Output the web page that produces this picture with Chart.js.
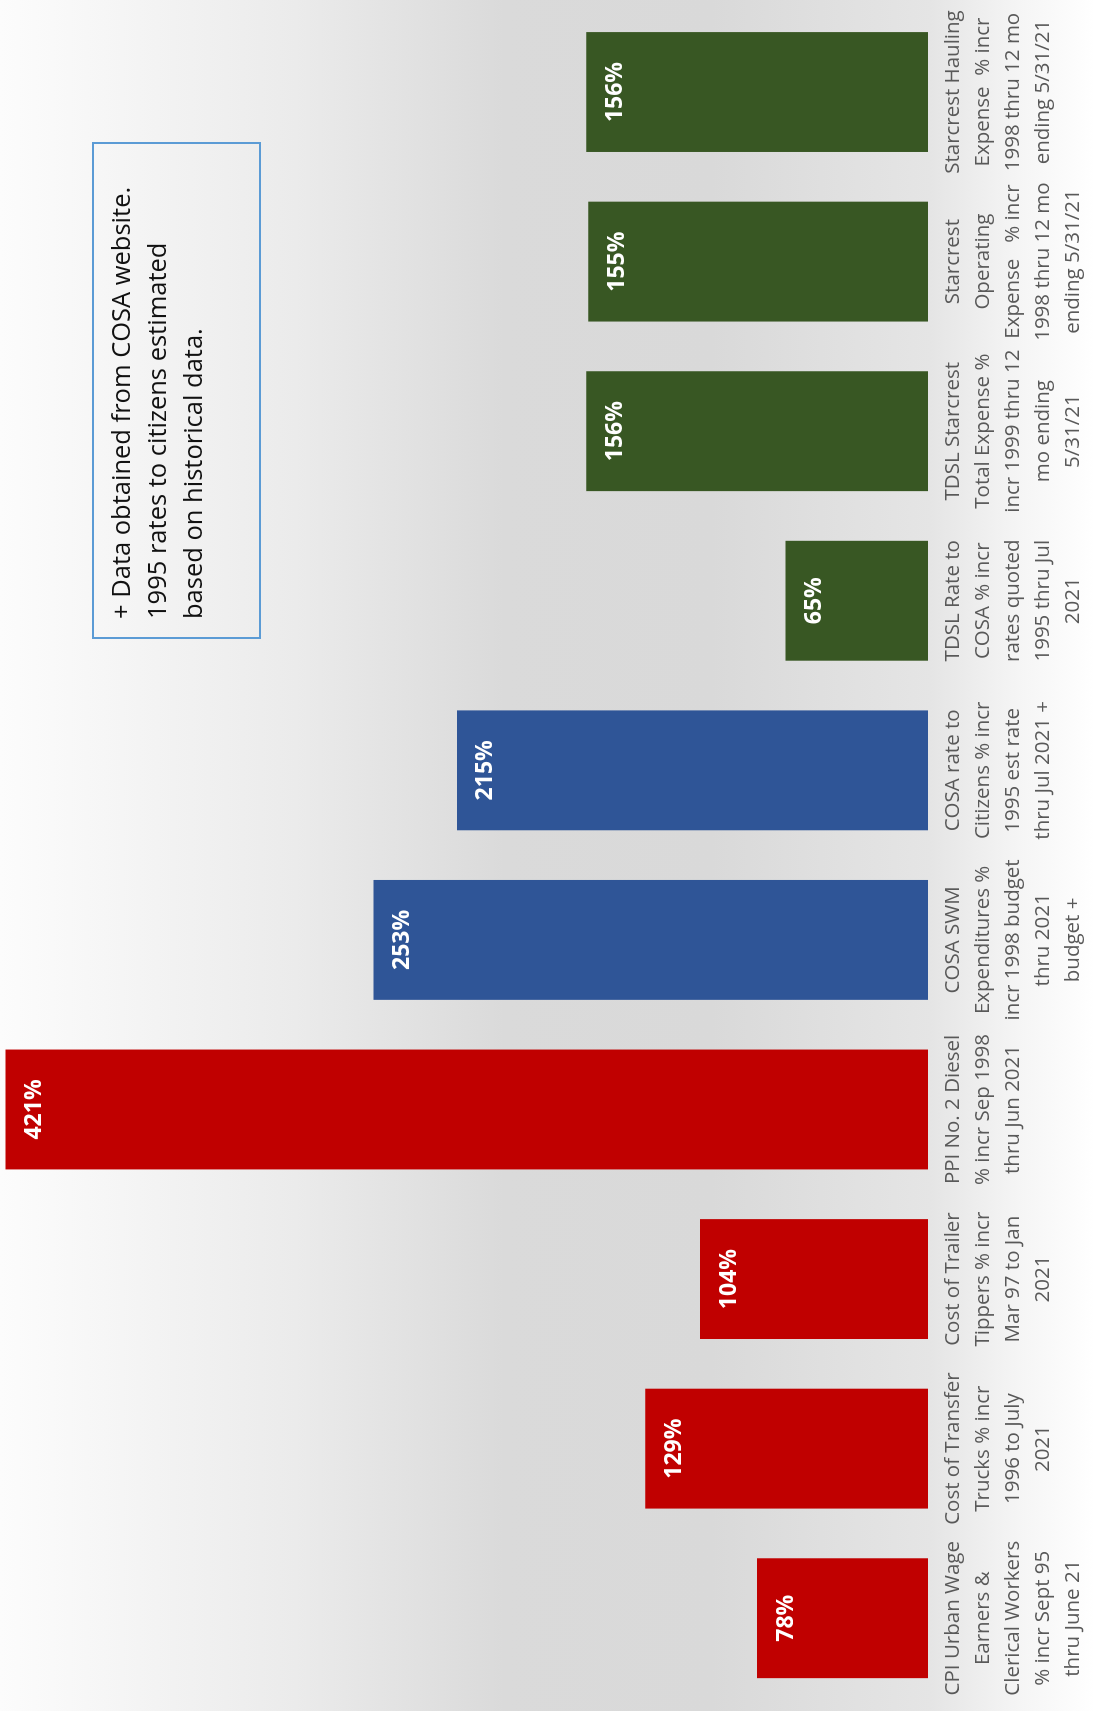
<!DOCTYPE html>
<html>
<head>
<meta charset="utf-8">
<script src="https://cdn.jsdelivr.net/npm/chart.js@4.4.1/dist/chart.umd.min.js"></script>
<style>
  html, body { margin: 0; padding: 0; width: 1095px; height: 1711px; overflow: hidden; }
  body {
    background: linear-gradient(to right, #fcfcfc 0%, #ebebeb 27%, #dadada 46%, #d9d9d9 65%, #e5e5e5 85%, #f5f5f5 93%, #ffffff 100%);
    font-family: "Open Sans", "Noto Sans", sans-serif;
  }
  /* chart is drawn upright, then the whole thing is turned a quarter left */
  #wrap {
    position: absolute; left: 0; top: 0;
    width: 1711px; height: 1095px;
    transform-origin: 0 0;
    transform: translateY(1711px) rotate(-90deg);
  }
  #chart { position: absolute; left: 0; top: 0; }
  #note {
    position: absolute; left: 1072px; top: 92px;
    width: 497px; height: 169px; box-sizing: border-box;
    border: 2px solid #5b9bd5;
    padding: 8px 0 0 18px;
    font-size: 25.5px; line-height: 36px; color: #111111;
    white-space: nowrap;
  }
</style>
</head>
<body>
<div id="wrap">
  <canvas id="chart" width="1711" height="1095"></canvas>
  <div id="note">+ Data obtained from COSA website.<br>1995 rates to citizens estimated<br>based on historical data.</div>
</div>
<script>
// Kategorien (Zeilen wie im Original umbrochen)
const categories = [
  ["CPI Urban Wage", "Earners &", "Clerical Workers", "% incr Sept 95", "thru June 21"],
  ["Cost of Transfer", "Trucks % incr", "1996 to July", "2021"],
  ["Cost of Trailer", "Tippers % incr", "Mar 97 to Jan", "2021"],
  ["PPI No. 2 Diesel", "% incr Sep 1998", "thru Jun 2021"],
  ["COSA SWM", "Expenditures %", "incr 1998 budget", "thru 2021", "budget +"],
  ["COSA rate to", "Citizens % incr", "1995 est rate", "thru Jul 2021 +"],
  ["TDSL Rate to", "COSA % incr", "rates quoted", "1995 thru Jul", "2021"],
  ["TDSL Starcrest", "Total Expense %", "incr 1999 thru 12", "mo ending", "5/31/21"],
  ["Starcrest", "Operating", "Expense   % incr", "1998 thru 12 mo", "ending 5/31/21"],
  ["Starcrest Hauling", "Expense  % incr", "1998 thru 12 mo", "ending 5/31/21"]
];

// Prozentuale Steigerung
const increases = [78, 129, 104, 421, 253, 215, 65, 156, 155, 156];

// Farbgruppen: Kostenindizes, COSA, TDSL/Starcrest
const barColors = [
  "#c00000", "#c00000", "#c00000", "#c00000",
  "#2f5597", "#2f5597",
  "#385723", "#385723", "#385723", "#385723"
];

// Prozentwerte weiss in die Balken schreiben
const valueLabels = {
  id: "valueLabels",
  afterDatasetsDraw(chart) {
    const ctx = chart.ctx;
    const meta = chart.getDatasetMeta(0);
    ctx.save();
    ctx.fillStyle = "#ffffff";
    ctx.font = "bold 23px 'Open Sans', 'Noto Sans', sans-serif";
    ctx.textAlign = "center";
    ctx.textBaseline = "middle";
    meta.data.forEach((bar, i) => {
      ctx.fillText(increases[i] + "%", bar.x, bar.y + 29);
    });
    ctx.restore();
  }
};

const ctx = document.getElementById("chart").getContext("2d");
new Chart(ctx, {
  type: "bar",
  data: {
    labels: categories,
    datasets: [{
      data: increases,
      backgroundColor: barColors,
      borderWidth: 0,
      barPercentage: 0.707,
      categoryPercentage: 1.0
    }]
  },
  options: {
    responsive: false,
    animation: false,
    layout: { padding: { left: 8, right: 5, top: 0, bottom: 0 } },
    plugins: {
      legend: { display: false },
      tooltip: { enabled: false }
    },
    scales: {
      x: {
        grid: { display: false, drawTicks: false, tickLength: 0 },
        border: { display: false },
        ticks: {
          color: "#595959",
          font: { family: "'Open Sans', 'Noto Sans', sans-serif", size: 20.5, lineHeight: "30px" },
          padding: 10,
          maxRotation: 0,
          minRotation: 0,
          autoSkip: false
        },
        afterFit(scale) { scale.height = 1095 - 928; }
      },
      y: {
        display: false,
        min: 0,
        max: 423.5
      }
    }
  },
  plugins: [valueLabels]
});
</script>
</body>
</html>
